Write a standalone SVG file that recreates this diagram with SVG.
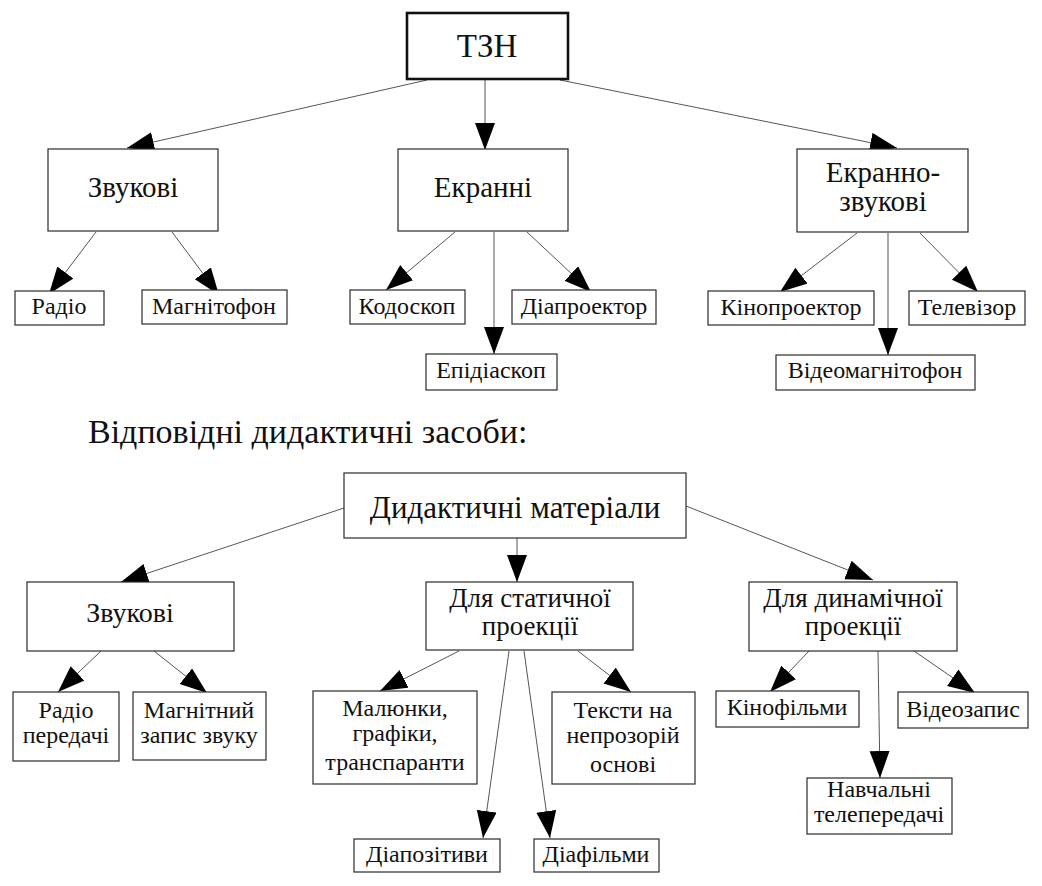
<svg xmlns="http://www.w3.org/2000/svg" width="1042" height="886" viewBox="0 0 1042 886">
<defs>
<style>
.bx{fill:#fff;stroke:#2a2a2a;stroke-width:1.2}
.bxt{fill:#fff;stroke:#111;stroke-width:2.6}
.t{fill:#111;text-anchor:middle}
.c{stroke:#555;stroke-width:1;fill:none;marker-end:url(#ah)}
</style>
<marker id="ah" markerUnits="userSpaceOnUse" markerWidth="30" markerHeight="22" refX="27" refY="10" orient="auto">
<path d="M0,0 L27,10 L0,20 z" fill="#000"/>
</marker>
</defs>
<rect width="1042" height="886" fill="#fff"/>

<g id="connectors">
<line class="c" x1="427" y1="80" x2="127" y2="148"/>
<line class="c" x1="485" y1="80" x2="485" y2="150"/>
<line class="c" x1="560" y1="80" x2="897" y2="148"/>
<line class="c" x1="96" y1="232" x2="49" y2="294"/>
<line class="c" x1="172" y1="232" x2="219" y2="295"/>
<line class="c" x1="455" y1="232" x2="386" y2="290"/>
<line class="c" x1="494" y1="232" x2="494" y2="354"/>
<line class="c" x1="527" y1="232" x2="591" y2="292"/>
<line class="c" x1="857" y1="233" x2="780" y2="292"/>
<line class="c" x1="888" y1="233" x2="888" y2="355"/>
<line class="c" x1="920" y1="233" x2="978" y2="292"/>
<line class="c" x1="344" y1="508" x2="121" y2="582"/>
<line class="c" x1="517" y1="538" x2="517" y2="582"/>
<line class="c" x1="686" y1="506" x2="873" y2="580"/>
<line class="c" x1="101" y1="651" x2="58" y2="692"/>
<line class="c" x1="154" y1="651" x2="207" y2="693"/>
<line class="c" x1="459" y1="651" x2="380" y2="691"/>
<line class="c" x1="509" y1="651" x2="483" y2="838"/>
<line class="c" x1="524" y1="651" x2="550" y2="838"/>
<line class="c" x1="578" y1="651" x2="631" y2="692"/>
<line class="c" x1="809" y1="651" x2="770" y2="692"/>
<line class="c" x1="878" y1="651" x2="880" y2="778"/>
<line class="c" x1="914" y1="651" x2="975" y2="693"/>
</g>

<g id="nodes" font-family="Liberation Serif, serif">
<g id="n-tzn"><rect class="bxt" x="407" y="13" width="161" height="66"/><text class="t" x="487" y="57" font-size="33">ТЗН</text></g>
<g id="n-zvukovi"><rect class="bx" x="48" y="149" width="170" height="82"/><text class="t" x="133" y="197" font-size="29">Звукові</text></g>
<g id="n-ekranni"><rect class="bx" x="398" y="149" width="170" height="82"/><text class="t" x="483" y="197" font-size="29">Екранні</text></g>
<g id="n-ekranno"><rect class="bx" x="797" y="149" width="171" height="83"/><text class="t" x="883" y="182" font-size="29">Екранно-</text><text class="t" x="883" y="211" font-size="29">звукові</text></g>

<g id="n-radio"><rect class="bx" x="15" y="291" width="89" height="34"/><text class="t" x="59" y="314" font-size="24">Радіо</text></g>
<g id="n-magnitofon"><rect class="bx" x="142" y="290" width="145" height="34"/><text class="t" x="214" y="314" font-size="24">Магнітофон</text></g>
<g id="n-kodoskop"><rect class="bx" x="350" y="290" width="115" height="34"/><text class="t" x="407" y="314" font-size="24">Кодоскоп</text></g>
<g id="n-diaproektor"><rect class="bx" x="512" y="290" width="144" height="34"/><text class="t" x="584" y="314" font-size="24">Діапроектор</text></g>
<g id="n-epidiaskop"><rect class="bx" x="426" y="354" width="131" height="36"/><text class="t" x="491" y="378" font-size="24">Епідіаскоп</text></g>
<g id="n-kinoproektor"><rect class="bx" x="708" y="291" width="166" height="34"/><text class="t" x="791" y="315" font-size="24">Кінопроектор</text></g>
<g id="n-televizor"><rect class="bx" x="909" y="291" width="116" height="34"/><text class="t" x="967" y="315" font-size="24">Телевізор</text></g>
<g id="n-videomagnitofon"><rect class="bx" x="776" y="355" width="199" height="35"/><text class="t" x="875" y="378" font-size="24">Відеомагнітофон</text></g>

<g id="heading"><text x="88" y="443" font-size="34" fill="#111">Відповідні дидактичні засоби:</text></g>

<g id="n-didmat"><rect class="bx" x="344" y="473" width="342" height="65"/><text class="t" x="515" y="518" font-size="31">Дидактичні матеріали</text></g>
<g id="n-zvukovi2"><rect class="bx" x="27" y="582" width="207" height="69"/><text class="t" x="130" y="622" font-size="28">Звукові</text></g>
<g id="n-static"><rect class="bx" x="426" y="582" width="207" height="68"/><text class="t" x="530" y="607" font-size="27">Для статичної</text><text class="t" x="530" y="635" font-size="27">проекції</text></g>
<g id="n-dynamic"><rect class="bx" x="749" y="582" width="208" height="69"/><text class="t" x="853" y="607" font-size="27">Для динамічної</text><text class="t" x="853" y="635" font-size="27">проекції</text></g>

<g id="n-radioperedachi"><rect class="bx" x="13" y="692" width="106" height="69"/><text class="t" x="66" y="718" font-size="24">Радіо</text><text class="t" x="66" y="743" font-size="24">передачі</text></g>
<g id="n-magnzapys"><rect class="bx" x="133" y="692" width="133" height="68"/><text class="t" x="199" y="718" font-size="24">Магнітний</text><text class="t" x="199" y="743" font-size="24">запис звуку</text></g>
<g id="n-maliunky"><rect class="bx" x="313" y="691" width="164" height="93"/><text class="t" x="395" y="716" font-size="24">Малюнки,</text><text class="t" x="395" y="741" font-size="24">графіки,</text><text class="t" x="395" y="770" font-size="24">транспаранти</text></g>
<g id="n-teksty"><rect class="bx" x="552" y="692" width="143" height="92"/><text class="t" x="623" y="718" font-size="24">Тексти на</text><text class="t" x="623" y="743" font-size="24">непрозорій</text><text class="t" x="623" y="772" font-size="24">основі</text></g>
<g id="n-diapozytyvy"><rect class="bx" x="354" y="839" width="146" height="33"/><text class="t" x="427" y="862" font-size="24">Діапозітиви</text></g>
<g id="n-diafilmy"><rect class="bx" x="534" y="839" width="125" height="33"/><text class="t" x="596" y="862" font-size="24">Діафільми</text></g>
<g id="n-kinofilmy"><rect class="bx" x="716" y="691" width="143" height="36"/><text class="t" x="787" y="715" font-size="24">Кінофільми</text></g>
<g id="n-videozapys"><rect class="bx" x="898" y="692" width="130" height="36"/><text class="t" x="963" y="717" font-size="24">Відеозапис</text></g>
<g id="n-navchalni"><rect class="bx" x="807" y="778" width="145" height="56"/><text class="t" x="879" y="797" font-size="24">Навчальні</text><text class="t" x="879" y="822" font-size="24">телепередачі</text></g>
</g>
</svg>
